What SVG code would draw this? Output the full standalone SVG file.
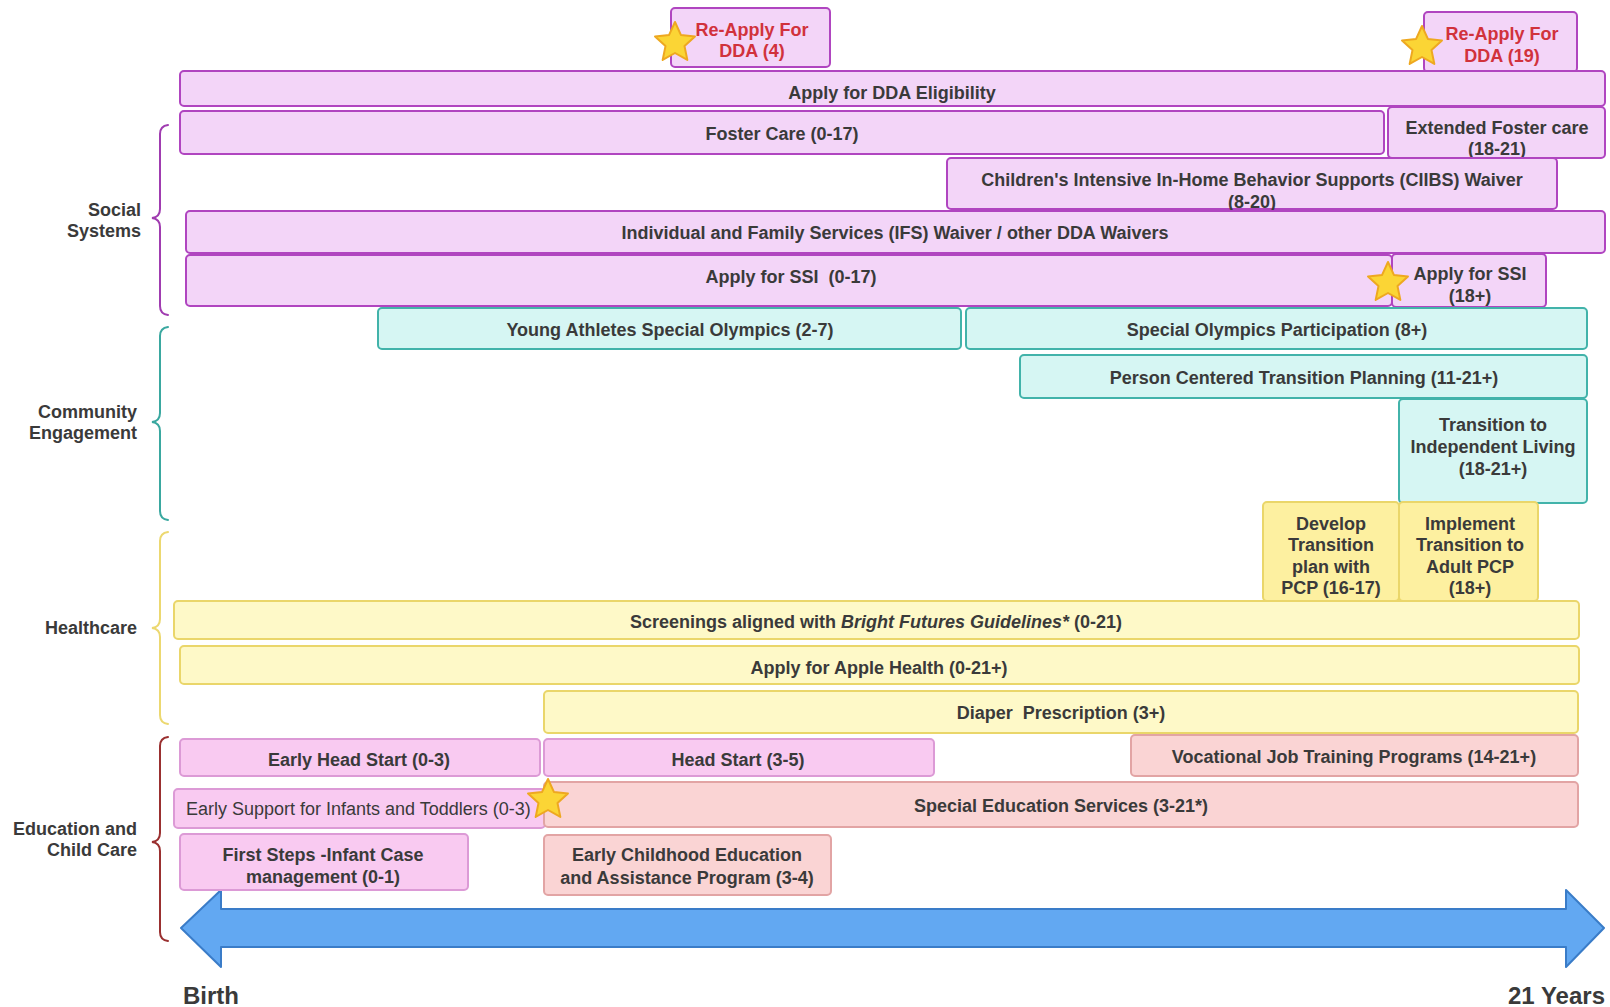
<svg xmlns="http://www.w3.org/2000/svg" width="1610" height="1007" viewBox="0 0 1610 1007">
<style>
.b{stroke-width:2}
.ss{fill:#f3d5f8;stroke:#b045c0}
.ce{fill:#d6f6f3;stroke:#42b3aa}
.hc{fill:#fef9c8;stroke:#ead66a}
.hd{fill:#fdf0a0;stroke:#ead66a}
.ep{fill:#f9caf1;stroke:#dc9ad6}
.es{fill:#fad4d4;stroke:#e2a4a4}
text{font-family:"Liberation Sans",Arial,sans-serif;font-size:18px;font-weight:bold;fill:#3a3a3a}
.c{text-anchor:middle}
.r{text-anchor:end}
.red{fill:#d1323c}
.n{font-weight:normal}
.big{font-size:24px}
.pre{white-space:pre}
.brace{fill:none;stroke-width:2;stroke-linecap:round}
.star{fill:#fbd535;stroke:#eea820;stroke-width:2;stroke-linejoin:round}
</style>
<defs>
<path id="star" d="M0,-21 L5.88,-8.09 L19.97,-6.49 L9.51,3.09 L12.34,16.99 L0,10 L-12.34,16.99 L-9.51,3.09 L-19.97,-6.49 L-5.88,-8.09 Z"/>
</defs>

<g id="categories">
<g id="cat-social">
<path class="brace" stroke="#a03cb0" d="M168,125 Q160,126 160,134 L160,209 Q160,217 152,218 Q160,219 160,227 L160,306 Q160,314 168,315"/>
<text class="r" x="141" y="215.5">Social</text>
<text class="r" x="141" y="237">Systems</text>
</g>
<g id="cat-community">
<path class="brace" stroke="#3aa8a0" d="M168,327 Q160,328 160,336 L160,413 Q160,421 152,422 Q160,423 160,431 L160,511 Q160,519 168,520"/>
<text class="r" x="137" y="417.7">Community</text>
<text class="r" x="137" y="439.3">Engagement</text>
</g>
<g id="cat-healthcare">
<path class="brace" stroke="#ecd870" d="M168,532 Q160,533 160,541 L160,619 Q160,627 152,628 Q160,629 160,637 L160,715 Q160,723 168,724"/>
<text class="r" x="137" y="634.4">Healthcare</text>
</g>
<g id="cat-education">
<path class="brace" stroke="#9a3030" d="M168,737 Q160,738 160,746 L160,833 Q160,841 152,842 Q160,843 160,851 L160,932 Q160,940 168,941"/>
<text class="r" x="137" y="834.6">Education and</text>
<text class="r" x="137" y="856">Child Care</text>
</g>
</g>

<g id="connectors">
<g id="timeline-arrow">
<path fill="#62a8f2" stroke="#3a7cc8" stroke-width="2" stroke-linejoin="round" d="M181,928 L221,890 L221,909 L1566,909 L1566,890 L1604,928 L1566,967 L1566,947 L221,947 L221,967 Z"/>
</g>
</g>
<text id="label-birth" class="big" x="183" y="1004">Birth</text>
<text id="label-21" class="big r" x="1605" y="1004">21 Years</text>

<g id="n-reapply4"><rect class="b ss" x="671" y="8" width="159" height="59" rx="4"/><text class="c red" x="752" y="36">Re-Apply For</text><text class="c red" x="752" y="57">DDA (4)</text></g>
<g id="n-reapply19"><rect class="b ss" x="1424" y="12" width="153" height="60" rx="4"/><text class="c red" x="1502" y="40">Re-Apply For</text><text class="c red" x="1502" y="61.5">DDA (19)</text></g>
<g id="n-dda"><rect class="b ss" x="180" y="71" width="1425" height="35" rx="4"/><text class="c" x="892" y="98.5">Apply for DDA Eligibility</text></g>
<g id="n-foster"><rect class="b ss" x="180" y="111" width="1204" height="43" rx="4"/><text class="c" x="782" y="139.5">Foster Care (0-17)</text></g>
<g id="n-extfoster"><rect class="b ss" x="1388" y="107" width="217" height="51" rx="4"/><text class="c" x="1497" y="133.5">Extended Foster care</text><text class="c" x="1497" y="155">(18-21)</text></g>
<g id="n-ciibs"><rect class="b ss" x="947" y="158" width="610" height="51" rx="4"/><text class="c" x="1252" y="186">Children's Intensive In-Home Behavior Supports (CIIBS) Waiver</text><text class="c" x="1252" y="207.5">(8-20)</text></g>
<g id="n-ifs"><rect class="b ss" x="186" y="211" width="1419" height="42" rx="4"/><text class="c" x="895" y="239">Individual and Family Services (IFS) Waiver / other DDA Waivers</text></g>
<g id="n-ssi017"><rect class="b ss" x="186" y="255" width="1206" height="51" rx="4"/><text class="c pre" x="791" y="283">Apply for SSI  (0-17)</text></g>
<g id="n-ssi18"><rect class="b ss" x="1392" y="254" width="154" height="53" rx="4"/><text class="c" x="1470" y="280">Apply for SSI</text><text class="c" x="1470" y="302">(18+)</text></g>

<g id="n-youngathletes"><rect class="b ce" x="378" y="308" width="583" height="41" rx="4"/><text class="c" x="670" y="335.6">Young Athletes Special Olympics (2-7)</text></g>
<g id="n-specialolympics"><rect class="b ce" x="966" y="308" width="621" height="41" rx="4"/><text class="c" x="1277" y="335.6">Special Olympics Participation (8+)</text></g>
<g id="n-pctp"><rect class="b ce" x="1020" y="355" width="567" height="43" rx="4"/><text class="c" x="1304" y="384">Person Centered Transition Planning (11-21+)</text></g>
<g id="n-indliving"><rect class="b ce" x="1399" y="399" width="188" height="104" rx="4"/><text class="c" x="1493" y="431">Transition to</text><text class="c" x="1493" y="452.7">Independent Living</text><text class="c" x="1493" y="475">(18-21+)</text></g>

<g id="n-develop"><rect class="b hd" x="1263" y="502" width="136" height="99" rx="4"/><text class="c" x="1331" y="529.7">Develop</text><text class="c" x="1331" y="551.2">Transition</text><text class="c" x="1331" y="572.8">plan with</text><text class="c" x="1331" y="594.4">PCP (16-17)</text></g>
<g id="n-implement"><rect class="b hd" x="1399" y="502" width="139" height="99" rx="4"/><text class="c" x="1470" y="529.7">Implement</text><text class="c" x="1470" y="551.2">Transition to</text><text class="c" x="1470" y="572.8">Adult PCP</text><text class="c" x="1470" y="594.4">(18+)</text></g>
<g id="n-screenings"><rect class="b hc" x="174" y="601" width="1405" height="38" rx="4"/><text class="c" x="876" y="628">Screenings aligned with <tspan font-style="italic">Bright Futures Guidelines*</tspan> (0-21)</text></g>
<g id="n-applehealth"><rect class="b hc" x="180" y="646" width="1399" height="38" rx="4"/><text class="c" x="879" y="673.5">Apply for Apple Health (0-21+)</text></g>
<g id="n-diaper"><rect class="b hc" x="544" y="691" width="1034" height="42" rx="4"/><text class="c pre" x="1061" y="718.6">Diaper  Prescription (3+)</text></g>

<g id="n-earlyheadstart"><rect class="b ep" x="180" y="739" width="360" height="37" rx="4"/><text class="c" x="359" y="766">Early Head Start (0-3)</text></g>
<g id="n-headstart"><rect class="b ep" x="544" y="739" width="390" height="37" rx="4"/><text class="c" x="738" y="766">Head Start (3-5)</text></g>
<g id="n-vocational"><rect class="b es" x="1131" y="735" width="447" height="41" rx="4"/><text class="c" x="1354" y="763">Vocational Job Training Programs (14-21+)</text></g>
<g id="n-earlysupport"><rect class="b ep" x="174" y="789" width="371" height="39" rx="4"/><text class="n" x="186" y="815">Early Support for Infants and Toddlers (0-3)</text></g>
<g id="n-specialed"><rect class="b es" x="544" y="782" width="1034" height="45" rx="4"/><text class="c" x="1061" y="812">Special Education Services (3-21*)</text></g>
<g id="n-firststeps"><rect class="b ep" x="180" y="834" width="288" height="56" rx="4"/><text class="c" x="323" y="861">First Steps -Infant Case</text><text class="c" x="323" y="883">management (0-1)</text></g>
<g id="n-eceap"><rect class="b es" x="544" y="835" width="287" height="60" rx="4"/><text class="c" x="687" y="861.3">Early Childhood Education</text><text class="c" x="687" y="884">and Assistance Program (3-4)</text></g>

<g id="stars">
<use href="#star" class="star" transform="translate(675,43)"/>
<use href="#star" class="star" transform="translate(1422,47)"/>
<use href="#star" class="star" transform="translate(1388,283)"/>
<use href="#star" class="star" transform="translate(548,800)"/>
</g>
</svg>
